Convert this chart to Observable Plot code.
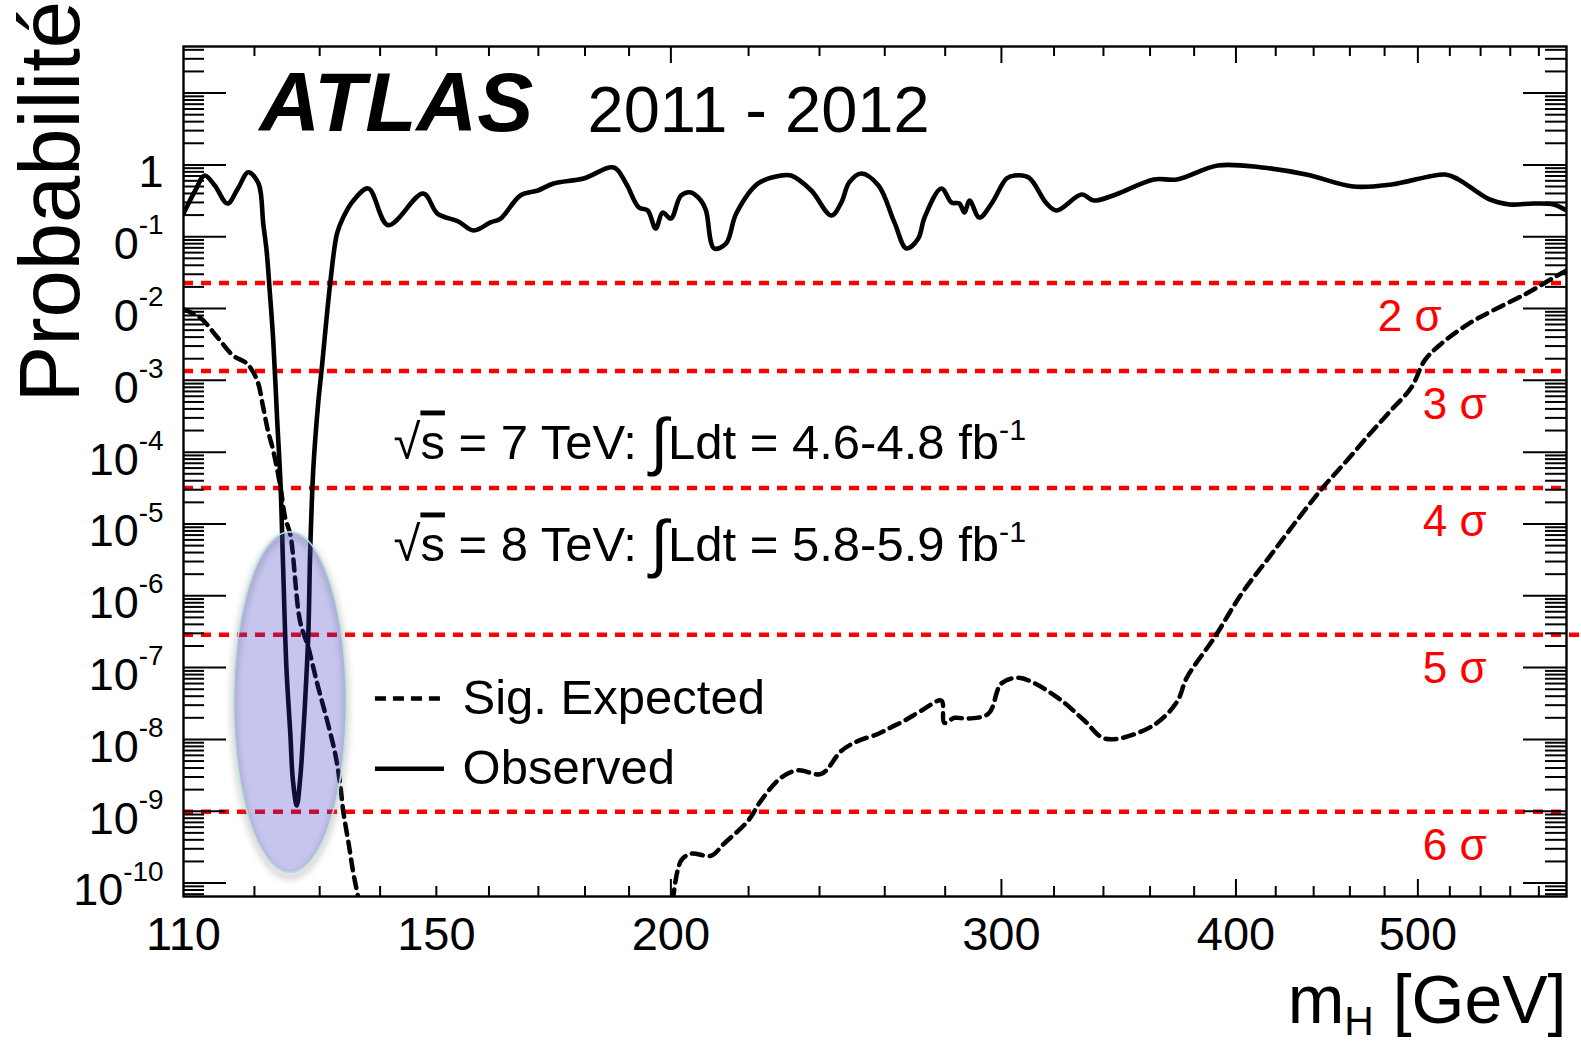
<!DOCTYPE html>
<html>
<head>
<meta charset="utf-8">
<script src="https://cdn.jsdelivr.net/npm/d3@7"></script>
<script src="https://cdn.jsdelivr.net/npm/@observablehq/plot@0.6"></script>
<style>
  html, body { margin: 0; padding: 0; background: #ffffff; }
  #chart svg { display: block; }
</style>
</head>
<body>
<div id="chart"></div>
<script>
// ---------------- data ----------------
// Observed local p0 (solid line)
const obsMass = [110, 111.6, 112.9, 114.3, 116.1, 117.6, 119.1, 120.6, 121.3, 121.8,
  122.3, 122.8, 123.4, 123.9, 124.3, 124.8, 125.4, 125.8, 126.4, 126.9,
  127.2, 127.7, 128.2, 128.5, 129.0, 129.8, 130.3, 131.7, 132.8, 133.8,
  135.5, 138.0, 141.4, 147.6, 150.2, 154.1, 157.0, 160.3, 162.3, 166.3,
  169.9, 173.2, 179.7, 186.5, 189.3, 192.3, 194.4, 196.3, 198.0, 200.0,
  202.5, 205.0, 207.5, 208.8, 210.9, 214.0, 216.7, 222.6, 229.0, 231.8,
  237.6, 243.5, 246.5, 248.9, 252.6, 258.0, 263.1, 267.0, 270.9, 273.0,
  278.7, 282.2, 284.9, 286.7, 288.5, 292.0, 296.4, 301.9, 304.9, 310.2,
  317.1, 321.0, 331.0, 336.0, 345.2, 361.7, 372.0, 391.3, 413.0, 436.0,
  461.9, 484.0, 517.1, 525.5, 545.9, 559.5, 576.2, 590.6, 600];
const obsP = [0.210, 0.440, 0.711, 0.516, 0.290, 0.469, 0.791, 0.551, 0.153, 0.0643,
  0.0162, 3.58e-3, 2.75e-4, 3.63e-5, 2.45e-6, 1.0e-7, 1.20e-8, 2.69e-9, 1.20e-9, 2.69e-9,
  6.03e-9, 3.47e-8, 2.95e-7, 4.27e-6, 6.17e-5, 5.25e-4, 1.38e-3, 0.0229, 0.111, 0.185,
  0.319, 0.469, 0.145, 0.400, 0.210, 0.163, 0.122, 0.158, 0.179, 0.375,
  0.440, 0.551, 0.647, 0.920, 0.551, 0.255, 0.232, 0.130, 0.217, 0.179,
  0.375, 0.413, 0.319, 0.232, 0.0686, 0.0804, 0.210, 0.551, 0.711, 0.711,
  0.440, 0.197, 0.299, 0.569, 0.759, 0.516, 0.158, 0.0686, 0.0944, 0.185,
  0.469, 0.299, 0.290, 0.217, 0.319, 0.185, 0.290, 0.647, 0.711, 0.668,
  0.290, 0.232, 0.387, 0.319, 0.387, 0.627, 0.627, 0.982, 0.920, 0.735,
  0.500, 0.533, 0.735, 0.627, 0.330, 0.281, 0.290, 0.281, 0.232];

// Expected (signal) p0, dashed line: low-mass branch
const expMassLow = [110, 112.25, 114.7, 116.9, 118.9, 120.4, 121.3, 122.0, 122.8, 123.9,
  124.6, 125.4, 126.9, 128.2, 129.6, 131.2, 132.5, 133.3, 133.8, 134.7, 135.5, 136.3, 136.8];
const expPLow = [9.77e-3, 7.50e-3, 3.94e-3, 2.21e-3, 1.71e-3, 1.0e-3, 4.18e-4, 2.0e-4, 1.05e-4, 3.24e-5,
  1.23e-5, 7.1e-6, 4.47e-7, 1.91e-7, 6.03e-8, 1.82e-8, 6.31e-9, 2.40e-9, 1.02e-9, 3.55e-10, 1.35e-10, 6.3e-11, 4.0e-11];

// Expected (signal) p0, dashed line: high-mass branch
const expMassHigh = [200.5, 202.5, 205.0, 210.1, 213.5, 219.9, 223.4, 229.0, 233.8, 240.5,
  246.5, 251.7, 258.0, 262.1, 266.3, 271.9, 278.7, 279.7, 283.2, 288.1,
  295.3, 300.0, 306.4, 312.5, 323.0, 332.2, 340.9, 360.6, 372.0, 376.6,
  389.6, 402.8, 418.1, 432.2, 445.1, 458.2, 471.6, 483.7, 496.0, 504.3,
  514.6, 532.3, 547.9, 571.3, 590.6, 600];
const expPHigh = [5.75e-11, 2.04e-10, 2.57e-10, 2.40e-10, 3.55e-10, 7.41e-10, 1.41e-9, 2.95e-9, 3.72e-9, 3.31e-9,
  6.92e-9, 9.55e-9, 1.20e-8, 1.48e-8, 1.82e-8, 2.51e-8, 3.47e-8, 1.70e-8, 2.0e-8, 1.95e-8,
  2.29e-8, 6.03e-8, 7.24e-8, 6.03e-8, 3.47e-8, 1.82e-8, 1.02e-8, 1.51e-8, 3.31e-8, 7.24e-8,
  2.63e-7, 1.07e-6, 3.89e-6, 1.23e-5, 3.24e-5, 7.59e-5, 1.82e-4, 3.80e-4, 7.94e-4, 1.91e-3,
  3.24e-3, 6.17e-3, 9.33e-3, 0.0162, 0.0269, 0.0339];

// Significance reference levels
const sigmaP = [2.275e-2, 1.350e-3, 3.167e-5, 2.867e-7, 9.866e-10];
const sigmaLabels = ["2 σ", "3 σ", "4 σ", "5 σ", "6 σ"];

// Axis ticks and labels
const xTickValues = [110, 150, 200, 300, 400, 500];
const xTickLabels = ["110", "150", "200", "300", "400", "500"];
const xMajorTicks = [200, 300, 400, 500];
const xMinorTicks = [120, 130, 140, 150, 160, 170, 180, 190, 220, 240, 260, 280,
  320, 340, 360, 380, 420, 440, 460, 480, 520, 540, 560, 580];
const yTickExponents = [0, -1, -2, -3, -4, -5, -6, -7, -8, -9, -10];
const yTickLabels = ["1", "0^{-1}", "0^{-2}", "0^{-3}", "10^{-4}", "10^{-5}", "10^{-6}",
  "10^{-7}", "10^{-8}", "10^{-9}", "10^{-10}"];
const yMajorExponents = [1, 0, -1, -2, -3, -4, -5, -6, -7, -8, -9, -10];

// Highlighted region (ellipse) around the excess
const highlightMass = [117.0, 134.3];
const highlightP = [1.4e-10, 7.8e-6];

// Texts
const titleText = "ATLAS";
const periodText = "2011 - 2012";
const lumiLines = ["√{s} = 7 TeV: ∫Ldt = 4.6-4.8 fb^{-1}", "√{s} = 8 TeV: ∫Ldt = 5.8-5.9 fb^{-1}"];
const legendLabels = ["Sig. Expected", "Observed"];
const yTitle = "Probabilité";
const xTitle = "m_{H} [GeV]";

// ---------------- build ----------------
const FONT = '"Liberation Sans", Arial, Helvetica, sans-serif';
const WIDTH = 1581, HEIGHT = 1044;
const ML = 183, MR = 15, MT = 46, MB = 148;
const PW = WIDTH - ML - MR, PH = HEIGHT - MT - MB;
const Y_DOMAIN = [6.5e-11, 44.5];

const obs = obsMass.map((m, i) => ({m, p: obsP[i]}));
const expLow = expMassLow.map((m, i) => ({m, p: expPLow[i]}));
const expHigh = expMassHigh.map((m, i) => ({m, p: expPHigh[i]}));

const yMajor = yMajorExponents.map(e => 10 ** e);
const yTickValues = yTickExponents.map(e => 10 ** e);
const yMinor = [];
for (let e = -11; e <= 1; e++) for (let k = 2; k <= 9; k++) {
  const v = k * 10 ** e;
  if (v > Y_DOMAIN[0] && v < Y_DOMAIN[1]) yMinor.push(v);
}

// ellipse outline in log-log space
const lnC = (Math.log(highlightMass[0]) + Math.log(highlightMass[1])) / 2;
const lnR = (Math.log(highlightMass[1]) - Math.log(highlightMass[0])) / 2;
const lpC = (Math.log10(highlightP[0]) + Math.log10(highlightP[1])) / 2;
const lpR = (Math.log10(highlightP[1]) - Math.log10(highlightP[0])) / 2;
const ellipse = d3.range(0, 144).map(i => {
  const t = i / 144 * 2 * Math.PI;
  return {m: Math.exp(lnC + lnR * Math.cos(t)), p: 10 ** (lpC + lpR * Math.sin(t))};
});

const RED = "#ff0000";
const redDash = {stroke: RED, strokeWidth: 4.5, strokeDasharray: "10,8"};
const expStyle = {stroke: "#000", strokeWidth: 4.5, strokeDasharray: "11,7", curve: "catmull-rom", clip: true};

const plot = Plot.plot({
  width: WIDTH,
  height: HEIGHT,
  marginLeft: ML, marginRight: MR, marginTop: MT, marginBottom: MB,
  x: {type: "log", domain: [110, 600]},
  y: {type: "log", domain: Y_DOMAIN},
  style: {fontFamily: FONT, background: "#ffffff", color: "#000000", overflow: "visible"},
  marks: [
    // significance levels
    Plot.ruleY([sigmaP[0], sigmaP[1], sigmaP[2], sigmaP[4]], {y: d => d, ...redDash}),
    Plot.ruleY([sigmaP[3]], {y: d => d, ...redDash, insetRight: -15}),
    // curves
    Plot.line(expLow, {x: "m", y: "p", ...expStyle}),
    Plot.line(expHigh, {x: "m", y: "p", ...expStyle}),
    Plot.line(obs, {x: "m", y: "p", stroke: "#000", strokeWidth: 4.6, curve: "catmull-rom", clip: true}),
    // highlight ellipse (soft shadow ring, then translucent fill)
    Plot.line(ellipse, {x: "m", y: "p", curve: "linear-closed", fill: "none", stroke: "#7a7a7a", strokeOpacity: 0.35, strokeWidth: 6, dy: 4, imageFilter: "blur(3px)"}),
    Plot.line(ellipse, {x: "m", y: "p", curve: "linear-closed", fill: "rgb(48,48,190)", fillOpacity: 0.28, stroke: "#b9e3dc", strokeWidth: 1.5}),
    // inward ticks (ROOT style)
    Plot.tickY(yMajor, {y: d => d, insetRight: PW - 43, strokeWidth: 2}),
    Plot.tickY(yMajor, {y: d => d, insetLeft: PW - 43, strokeWidth: 2}),
    Plot.tickY(yMinor, {y: d => d, insetRight: PW - 21, strokeWidth: 2}),
    Plot.tickY(yMinor, {y: d => d, insetLeft: PW - 21, strokeWidth: 2}),
    Plot.tickX(xMajorTicks, {x: d => d, insetTop: PH - 17, strokeWidth: 2}),
    Plot.tickX(xMajorTicks, {x: d => d, insetBottom: PH - 17, strokeWidth: 2}),
    Plot.tickX(xMinorTicks, {x: d => d, insetTop: PH - 10, strokeWidth: 2}),
    Plot.tickX(xMinorTicks, {x: d => d, insetBottom: PH - 10, strokeWidth: 2}),
    Plot.frame({stroke: "#000", strokeWidth: 2.4}),
    // axes (labels only)
    Plot.axisX({ticks: xTickValues, tickFormat: d => xTickLabels[xTickValues.indexOf(d)], tickSize: 0, tickPadding: 20, fontSize: 47, label: null}),
    Plot.axisY({ticks: yTickValues, tickFormat: d => yTickLabels[yTickExponents.indexOf(Math.round(Math.log10(d)))], tickSize: 0, tickPadding: 20, fontSize: 45, dy: 8, label: null}),
    // titles
    Plot.text([yTitle], {frameAnchor: "top-left", dx: -105, dy: 356, rotate: -90, text: d => d, fontSize: 85, textAnchor: "start", lineAnchor: "bottom"}),
    Plot.text([xTitle], {frameAnchor: "bottom-right", dx: 0, dy: 126, text: d => d, fontSize: 68, textAnchor: "end", lineAnchor: "bottom"}),
    // annotations
    Plot.text([titleText], {frameAnchor: "top-left", dx: 76, dy: 84, text: d => d, fontSize: 84, fontWeight: "bold", fontStyle: "italic", textAnchor: "start", lineAnchor: "bottom"}),
    Plot.text([periodText], {frameAnchor: "top-left", dx: 404, dy: 85, text: d => d, fontSize: 65, textAnchor: "start", lineAnchor: "bottom"}),
    Plot.text([lumiLines[0]], {frameAnchor: "top-left", dx: 210, dy: 412, text: d => d, fontSize: 49, textAnchor: "start", lineAnchor: "bottom"}),
    Plot.text([lumiLines[1]], {frameAnchor: "top-left", dx: 210, dy: 514, text: d => d, fontSize: 49, textAnchor: "start", lineAnchor: "bottom"}),
    // legend
    Plot.ruleY([3.7e-8], {y: d => d, x1: 139.2, x2: 151.5, stroke: "#000", strokeWidth: 4.5, strokeDasharray: "11,7"}),
    Plot.ruleY([3.9e-9], {y: d => d, x1: 139.2, x2: 151.5, stroke: "#000", strokeWidth: 4.5}),
    Plot.text([legendLabels[0]], {x: 154.9, y: 3.7e-8, text: d => d, fontSize: 49, textAnchor: "start", lineAnchor: "middle"}),
    Plot.text([legendLabels[1]], {x: 154.9, y: 3.9e-9, text: d => d, fontSize: 49, textAnchor: "start", lineAnchor: "middle"}),
    // sigma labels
    Plot.text(sigmaP, {x: (d, i) => i === 0 ? 476 : 503, y: d => d, text: (d, i) => sigmaLabels[i], dy: 48, fill: RED, fontSize: 44, textAnchor: "start", lineAnchor: "bottom"})
  ]
});

document.getElementById("chart").appendChild(plot);

// rich text: superscripts, subscripts, radical with overline, integral sign
function rich(el, supRaise, subDrop) {
  const fs = parseFloat(getComputedStyle(el).fontSize);
  const src = el.textContent;
  const re = /(\^\{[^}]*\}|_\{[^}]*\}|√\{[^}]*\}|∫)/g;
  const parts = src.split(re).filter(s => s !== "");
  while (el.firstChild) el.removeChild(el.firstChild);
  const NS = "http://www.w3.org/2000/svg";
  let base = 0;
  for (const part of parts) {
    let txt = part, off = 0, size = null, deco = null;
    if (part.startsWith("^{")) { txt = part.slice(2, -1); off = -supRaise * fs; size = 0.62 * fs; }
    else if (part.startsWith("_{")) { txt = part.slice(2, -1); off = subDrop * fs; size = 0.6 * fs; }
    else if (part.startsWith("√{")) {
      const r = document.createElementNS(NS, "tspan");
      r.setAttribute("dy", -base); base = 0;
      r.textContent = "√";
      el.appendChild(r);
      txt = part.slice(2, -1); deco = "overline";
    }
    else if (part === "∫") { off = 0.1 * fs; size = 1.3 * fs; }
    const t = document.createElementNS(NS, "tspan");
    t.setAttribute("dy", off - base); base = off;
    if (size) t.setAttribute("font-size", size);
    if (deco) t.setAttribute("text-decoration", deco);
    t.textContent = txt;
    el.appendChild(t);
  }
}
plot.querySelectorAll("text").forEach(el => {
  if (/\^\{|_\{|√\{|∫/.test(el.textContent)) {
    const g = el.closest("g[aria-label]");
    const isAxis = g && /y-axis/.test(g.getAttribute("aria-label"));
    rich(el, isAxis ? 0.55 : 0.38, 0.18);
  }
});
</script>
</body>
</html>
